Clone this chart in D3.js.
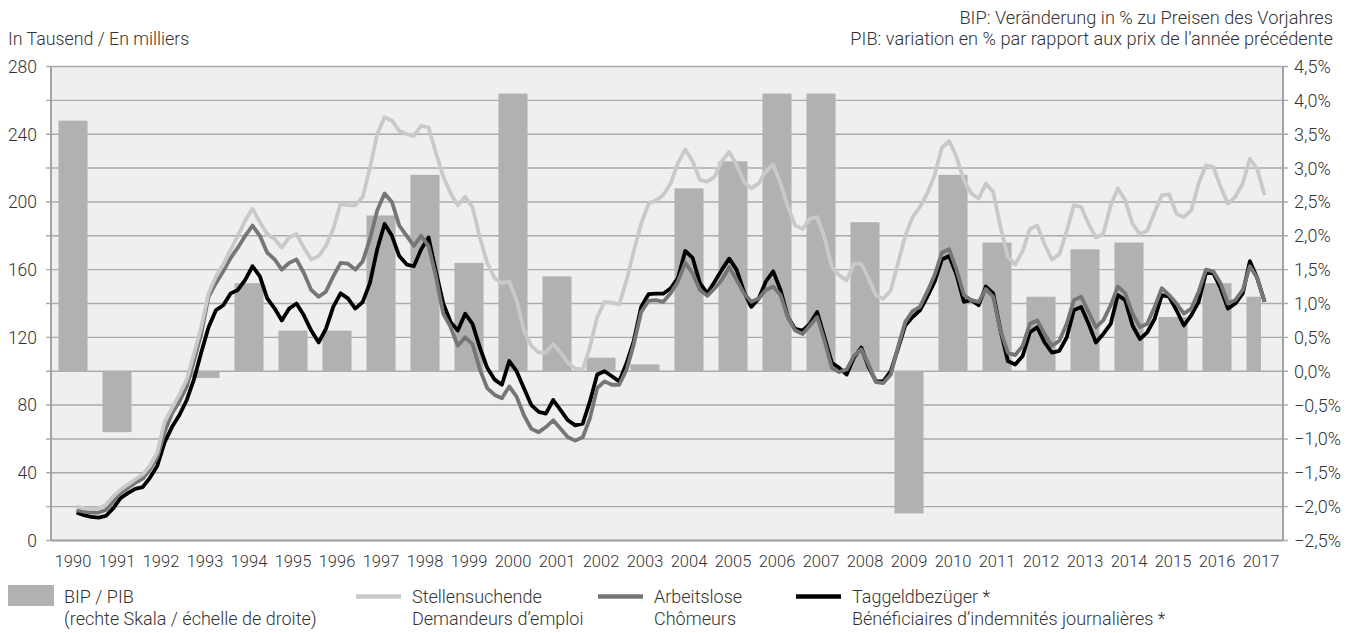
<!DOCTYPE html>
<html>
<head>
<meta charset="utf-8">
<script src="https://cdn.jsdelivr.net/npm/d3@7"></script>
<style>
  html, body { margin: 0; padding: 0; background: #ffffff; }
  svg text { font-family: Roboto, "Noto Sans", sans-serif; font-weight: 300; fill: #333333; }
</style>
</head>
<body>
<svg id="chart" width="1358" height="633"></svg>
<script>
// ---------------- DATA ----------------
const years = ["1990","1991","1992","1993","1994","1995","1996","1997","1998","1999",
  "2000","2001","2002","2003","2004","2005","2006","2007","2008","2009",
  "2010","2011","2012","2013","2014","2015","2016","2017"];
// BIP / PIB, % change (right scale)
const bip = [3.7,-0.9,0.0,-0.1,1.3,0.6,0.6,2.3,2.9,1.6,
  4.1,1.4,0.2,0.1,2.7,3.1,4.1,4.1,2.2,-2.1,
  2.9,1.9,1.1,1.8,1.9,0.8,1.3,1.1];
const partialYear = "2017"; // year with incomplete data (narrow bar)

// Line series: every second month, starting August 1990 (thousands)
const seriesStart = [1990, 7]; // year, month index (0 = January)
const seriesStepMonths = 2;
const stellensuchende = [
  20,19,18.5,19,21,26,30,33,36,39,
  44,52,70,78,86,95,110,126,146,156,
  163,172,180,189,196,188,181,178,173,179,
  181,173,166,168,174,184,199,198,198,203,
  220,240,250,248,242,240,239,245,244,229,
  215,205,198,203,197,179,164,155,152,153,
  142,124,115,111,111,116,111,105,101.5,101,
  114,132,141,140.5,139.5,154,171,187,199,201,
  204,211,223,231,224,213,212,215,224,229.5,
  222,212,208,211,218,222,211,197,186,184,
  190,191,179,161.5,156.6,153.7,163.5,163.5,154.7,144.8,
  142.8,147.8,163.5,180,191,197,205,216,232,236,
  226.5,212.7,205,202,210.8,206,185,167.5,163,171,
  184,186,175,166,169,183,198,197,187,179,
  181,198,208,201,187,181,183,194,204,204.5,
  193,191,195,211,221.6,220.6,209,199,203,211,
  225.5,219.6,204];
const arbeitslose = [
  18,17,16.5,16.5,18,23,28,31,34,36.5,
  42,49,64,75,82,91,106,122,144,152,
  159,167,173,180,186,180,170,166,160,164,
  166,158,148,144,147,156,164,163.5,160,165,
  178,195,205,200,186,180,174,180,174,156,
  134,126,115,120,116,101,90,86,84,91,
  85,74,66,64,67,71,66,61,59,61,
  72,90,94,92,92,101,116,135,141.5,142,
  141,146,153,164,158,148,144.5,149,154,161.5,
  154,146,141,143,148,150,145,132,124,122,
  127,132,118,102,99.5,101,109,113,104,93.5,
  93,98,114,129,135.5,138,147,157,170,172,
  160,145,142,141,148.5,144,124,111,109.5,115,
  128,130,122,115,118,128,142,144,135,126,
  130,139,150,146,134,126,128,138,149,145,
  140,134,137,147,160,159,152,140,142,148,
  162,155,141];
const taggeldbezueger = [
  16.5,15,14,13.5,14.5,19,25,28,30.5,31.5,
  37,44,58,67,74,83,95,111,126,136,
  139,146,148,154,162,156,143,137,130,137,
  140,133,124,117,125,138,146,143,137,141,
  152,172,187,180,168,163,162,172,179,159,
  140,129,124,134,128,114,102,95,92,106,
  100,90,80,76,75,83,77,71,68,69,
  82,98,100,97,94,105,118,138,145.5,145.8,
  145.8,149,155,171,167,152,146,153,160,166.5,
  160,147,138,143,153,159,148,132,125,124,
  128,135,120,105,102,98,108,114,102.5,94,
  94,100,113,127,132,136,144,153,166,168,
  157,141,142,139,150,146,124,106,104,109,
  123,126,117,111,112,120,136,138,128,117,
  122,128,145,142,127,119,123,131,145,144,
  136,127,133,141,158,158,149,137,140,146,
  165,155,141];

const leftTicks = [0,40,80,120,160,200,240,280];
const gridValues = [0,20,40,60,80,100,120,140,160,180,200,220,240,260,280];
const rightTicks = [-2.5,-2.0,-1.5,-1.0,-0.5,0.0,0.5,1.0,1.5,2.0,2.5,3.0,3.5,4.0,4.5];

const titleLeft = "In Tausend / En milliers";
const titleRight = ["BIP: Veränderung in % zu Preisen des Vorjahres",
                    "PIB: variation en % par rapport aux prix de l’année précédente"];

// ---------------- LAYOUT ----------------
const svg = d3.select("#chart");
const M = { left: 51, right: 1283, top: 66.5, bottom: 540.5 };

const x = d3.scaleBand().domain(years).range([M.left, M.right])
  .paddingInner(0.34).paddingOuter(0.17);
const xTime = d3.scaleTime()
  .domain([new Date(+years[0], 0, 1), new Date(+years[years.length-1] + 1, 0, 1)])
  .range([M.left, M.right]);
const yL = d3.scaleLinear().domain([0, 280]).range([M.bottom, M.top]);
const yR = d3.scaleLinear().domain([-2.5, 4.5]).range([M.bottom, M.top]);

// plot background
svg.append("rect").attr("x", M.left).attr("y", M.top)
  .attr("width", M.right - M.left).attr("height", M.bottom - M.top)
  .attr("fill", "#efefef");

// gridlines
svg.append("g").selectAll("line").data(gridValues).join("line")
  .attr("x1", M.left - 5).attr("x2", M.right + 5)
  .attr("y1", d => yL(d)).attr("y2", d => yL(d))
  .attr("stroke", "#aaaaaa").attr("stroke-width", 1.4);

// bars
const start = new Date(seriesStart[0], seriesStart[1], 1);
svg.append("g").selectAll("rect").data(years.map((yr, i) => ({ yr, v: bip[i] }))).join("rect")
  .attr("x", d => x(d.yr))
  .attr("width", d => d.yr === partialYear ? x.bandwidth() / 2 : x.bandwidth())
  .attr("y", d => Math.min(yR(d.v), yR(0)))
  .attr("height", d => Math.abs(yR(d.v) - yR(0)))
  .attr("fill", "#b1b1b3");

// axis frame lines
const axisColor = "#a3a3a3";
svg.append("line").attr("x1", M.left).attr("x2", M.left).attr("y1", M.top).attr("y2", M.bottom)
  .attr("stroke", axisColor).attr("stroke-width", 2);
svg.append("line").attr("x1", M.right).attr("x2", M.right).attr("y1", M.top).attr("y2", M.bottom)
  .attr("stroke", axisColor).attr("stroke-width", 2);
svg.append("line").attr("x1", M.left).attr("x2", M.right).attr("y1", M.bottom).attr("y2", M.bottom)
  .attr("stroke", axisColor).attr("stroke-width", 2);

// lines
function toPoints(arr) {
  return arr.map((v, i) => ({ date: d3.timeMonth.offset(start, i * seriesStepMonths), v }));
}
const line = d3.line().x(d => xTime(d.date)).y(d => yL(d.v));
const seriesDefs = [
  { data: taggeldbezueger, color: "#000000" },
  { data: arbeitslose, color: "#767676" },
  { data: stellensuchende, color: "#c9c9c9" }
];
svg.append("g").selectAll("path").data(seriesDefs).join("path")
  .attr("d", d => line(toPoints(d.data)))
  .attr("fill", "none").attr("stroke", d => d.color)
  .attr("stroke-width", 3.8).attr("stroke-linejoin", "round").attr("stroke-linecap", "butt");

// left tick labels
svg.append("g").selectAll("text").data(leftTicks).join("text")
  .attr("x", 37).attr("y", d => yL(d)).attr("dy", "0.36em")
  .attr("text-anchor", "end").attr("font-size", 17.5)
  .text(d => d);

// right tick labels
const fmtPct = d => (d < 0 ? "\u2212" : "") + d3.format(".1f")(Math.abs(d)).replace(".", ",") + "%";
svg.append("g").selectAll("text").data(rightTicks).join("text")
  .attr("x", 1294).attr("y", d => yR(d)).attr("dy", "0.36em")
  .attr("text-anchor", "start").attr("font-size", 18)
  .text(fmtPct);

// x labels
svg.append("g").selectAll("text").data(years).join("text")
  .attr("x", d => x(d) + x.bandwidth() / 2).attr("y", 567)
  .attr("text-anchor", "middle").attr("font-size", 16.5)
  .text(d => d);

// titles
svg.append("text").attr("x", 8).attr("y", 45).attr("font-size", 17.8).text(titleLeft);
svg.append("g").selectAll("text").data(titleRight).join("text")
  .attr("x", 1333).attr("y", (d, i) => 24 + i * 21)
  .attr("text-anchor", "end").attr("font-size", 18.2).text(d => d);

// legend
const lg = svg.append("g");
lg.append("rect").attr("x", 8).attr("y", 585).attr("width", 46).attr("height", 21).attr("fill", "#b1b1b3");
const legendTexts = [
  { x: 64, lines: ["BIP / PIB", "(rechte Skala / échelle de droite)"] },
  { x: 412, lines: ["Stellensuchende", "Demandeurs d’emploi"], color: "#c9c9c9", lx: 356 },
  { x: 654, lines: ["Arbeitslose", "Chômeurs"], color: "#767676", lx: 598 },
  { x: 852, lines: ["Taggeldbezüger *", "Bénéficiaires d’indemnités journalières *"], color: "#000000", lx: 796 }
];
legendTexts.forEach(d => {
  if (d.color) {
    lg.append("line").attr("x1", d.lx).attr("x2", d.lx + 45).attr("y1", 596.5).attr("y2", 596.5)
      .attr("stroke", d.color).attr("stroke-width", 4.5);
  }
  d.lines.forEach((t, i) => {
    lg.append("text").attr("x", d.x).attr("y", 603 + i * 21.5).attr("font-size", 18).text(t);
  });
});
</script>
</body>
</html>
